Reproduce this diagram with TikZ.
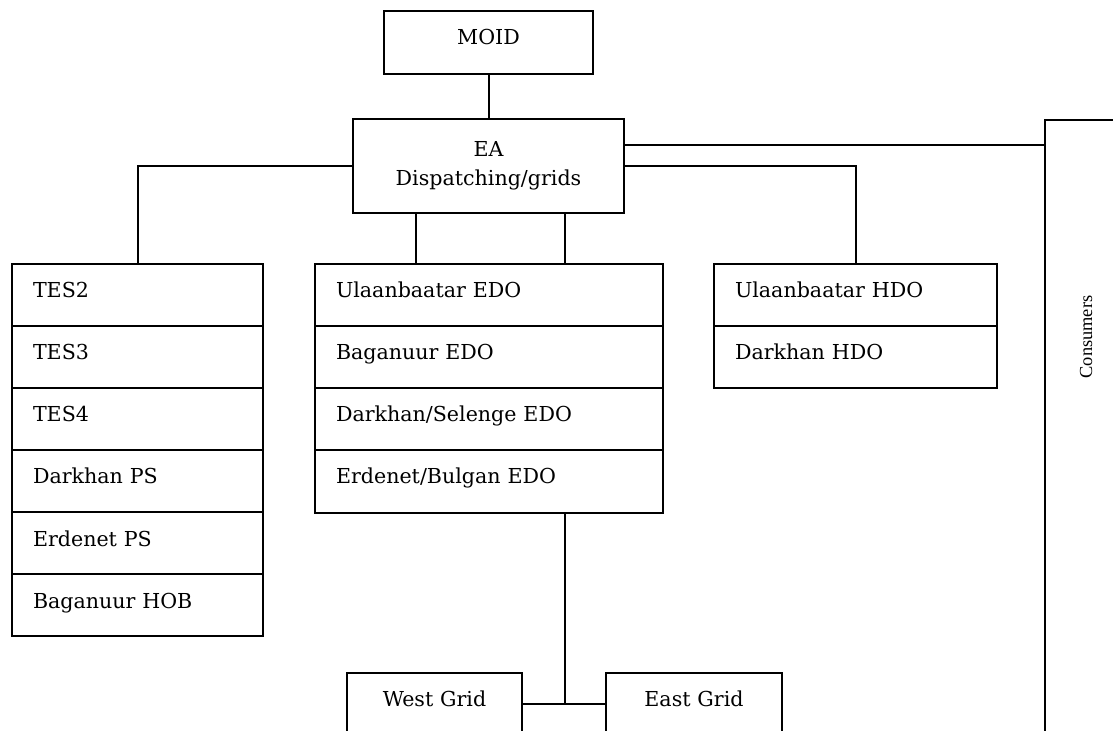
\documentclass[tikz,border=0pt]{standalone}
\usepackage{fontspec}
\setmainfont{DejaVu Serif}
\newfontfamily\consfont{Liberation Serif}
\begin{document}
\begin{tikzpicture}[x=0.5pt,y=-0.5pt,line width=1pt,
  box/.style={draw,anchor=north west,inner xsep=0pt,inner ysep=0pt,font=\fontsize{10.3}{14.5}\selectfont},
  rowbox/.style={box,inner xsep=10.5pt,text height=17pt,text depth=14pt,align=left},
  conn/.style={draw}]
\useasboundingbox (0,0) rectangle (1113,731);
\clip (0,0) rectangle (1113,731);

% top boxes
\node[box,text width=104.5pt,align=center,text height=17pt,text depth=14.5pt] (moid) at (383,10) {MOID};
\node[box,text width=135.5pt,minimum height=47pt,align=center] (ea) at (352,118) {EA\\Dispatching/grids};

% TES column
\node[rowbox,text width=104.5pt] (tes2) at (11,263) {TES2};
\node[rowbox,text width=104.5pt] (tes3) at (11,325) {TES3};
\node[rowbox,text width=104.5pt] (tes4) at (11,387) {TES4};
\node[rowbox,text width=104.5pt] (dps)  at (11,449) {Darkhan PS};
\node[rowbox,text width=104.5pt] (eps)  at (11,511) {Erdenet PS};
\node[rowbox,text width=104.5pt] (hob)  at (11,573) {Baganuur HOB};

% EDO column
\node[rowbox,text width=153pt] (edo1) at (314,263) {Ulaanbaatar EDO};
\node[rowbox,text width=153pt] (edo2) at (314,325) {Baganuur EDO};
\node[rowbox,text width=153pt] (edo3) at (314,387) {Darkhan/Selenge EDO};
\node[rowbox,text width=153pt,text depth=14.5pt] (edo4) at (314,449) {Erdenet/Bulgan EDO};

% HDO column
\node[rowbox,text width=120.5pt] (hdo1) at (713,263) {Ulaanbaatar HDO};
\node[rowbox,text width=120.5pt] (hdo2) at (713,325) {Darkhan HDO};

% grids
\node[box,text width=87.5pt,align=center,text height=16.5pt,text depth=40pt] (west) at (346,672) {West Grid};
\node[box,text width=88pt,align=center,text height=16.5pt,text depth=40pt] (east) at (605,672) {East Grid};

% consumers
\node[draw,anchor=north west,minimum width=60pt,minimum height=350pt,inner sep=0pt] (cons) at (1044,119) {};
\node[rotate=90,font=\consfont\fontsize{9.2}{11}\selectfont,inner sep=0pt] (conslbl) at (1086,337) {Consumers};

% connectors
\draw (moid.south) -- (moid.south |- ea.north);
\coordinate (ec) at ([yshift=10.5pt]ea.east);
\draw (ec) -- (ec -| cons.west);
\draw (ea.west) -- (ea.west -| tes2.north) -- (tes2.north);
\draw (ea.east) -- (ea.east -| hdo1.north) -- (hdo1.north);
\coordinate (el) at ([xshift=-36.5pt]ea.south);
\coordinate (er) at ([xshift=38pt]ea.south);
\draw (el) -- (el |- edo1.north);
\draw (er) -- (er |- edo1.north);
\coordinate (gj) at ([xshift=38pt,yshift=-95pt]edo4.south);
\draw (gj |- edo4.south) -- (gj);
\draw (gj -| west.east) -- (gj -| east.west);
\end{tikzpicture}
\end{document}
